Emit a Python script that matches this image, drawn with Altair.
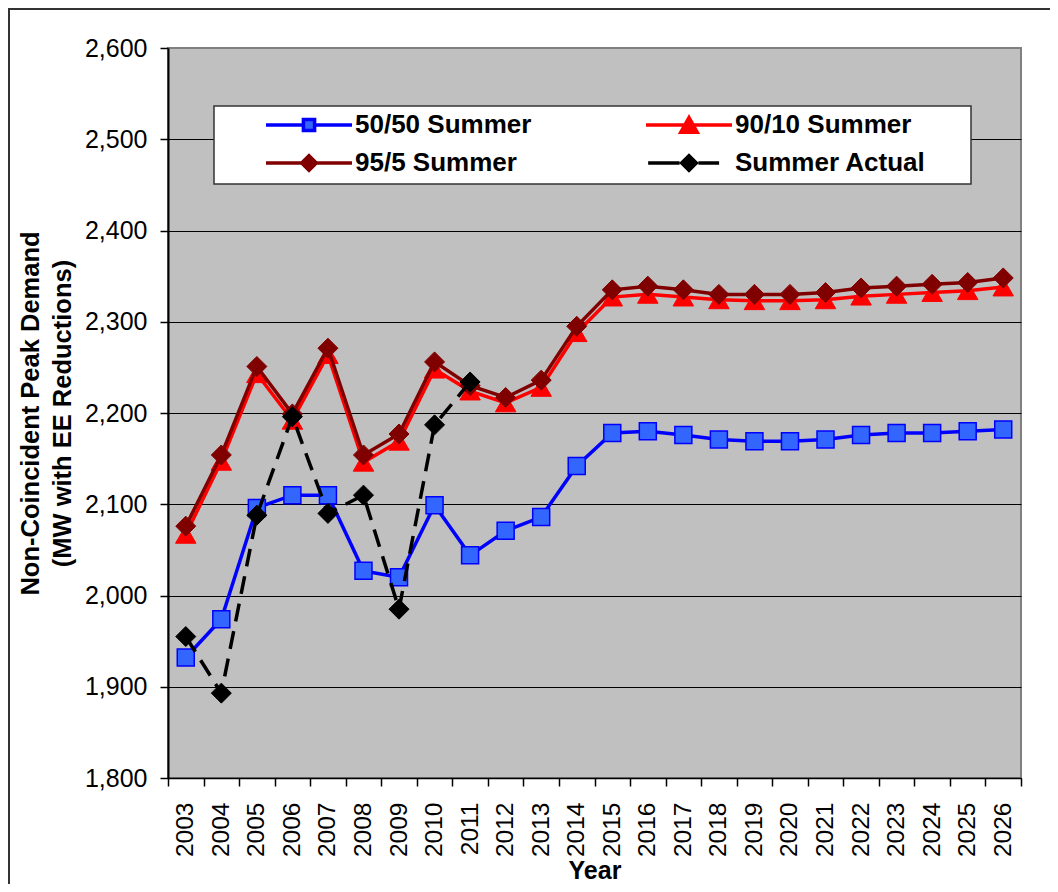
import altair as alt
import pandas as pd

# ---------------- data ----------------
years = list(range(2003, 2027))
series_names = ["50/50 Summer", "90/10 Summer", "95/5 Summer", "Summer Actual"]

summer_50_50 = [1932, 1974, 2096, 2110, 2110, 2027, 2020, 2099, 2044, 2071, 2086, 2142,
                2178, 2180, 2176, 2171, 2169, 2169, 2171, 2176, 2178, 2178, 2180, 2182]
summer_90_10 = [2067, 2147, 2243, 2192, 2264, 2146, 2169, 2248, 2224, 2211, 2228, 2288,
                2327, 2330, 2327, 2324, 2323, 2323, 2324, 2328, 2330, 2332, 2334, 2338]
summer_95_5 = [2076, 2154, 2251, 2199, 2271, 2154, 2177, 2256, 2230, 2217, 2236, 2295,
               2335, 2339, 2335, 2330, 2330, 2330, 2332, 2337, 2339, 2341, 2343, 2348]
actual_years = years[:9]
summer_actual = [1955, 1893, 2088, 2196, 2090, 2110, 1985, 2187, 2234]

y_ticks = [1800, 1900, 2000, 2100, 2200, 2300, 2400, 2500, 2600]

rows = []
for name, yrs, vals in [
    (series_names[0], years, summer_50_50),
    (series_names[1], years, summer_90_10),
    (series_names[2], years, summer_95_5),
    (series_names[3], actual_years, summer_actual),
]:
    for yr, v in zip(yrs, vals):
        rows.append({"year": yr, "series": name, "value": v})
df = pd.DataFrame(rows)

tick_bounds = [y - 0.5 for y in years] + [years[-1] + 0.5]

# ---------------- styles ----------------
FONT = "Liberation Sans"
styles = {
    "50/50 Summer": dict(line="#0000FF", fill="#3366FF", stroke="#0000FF", shape="square", size=289, sw=1.5, dash=None),
    "90/10 Summer": dict(line="#FF0000", fill="#FF0000", stroke="#FF0000", shape="triangle-up", size=420, sw=1, dash=None),
    "95/5 Summer": dict(line="#800000", fill="#800000", stroke="#800000", shape="diamond", size=400, sw=1, dash=None),
    "Summer Actual": dict(line="#000000", fill="#000000", stroke="#000000", shape="diamond", size=400, sw=1, dash=[18, 10]),
}
legend_paths = [
    "M-1,0H-0.13M0.13,0H1M-0.13,-0.13H0.13V0.13H-0.13Z",
    "M-1,0H1M0,-0.17L0.19,0.17L-0.19,0.17Z",
    "M-1,0H1M0,-0.17L0.17,0L0,0.17L-0.17,0Z",
    "M-0.95,0H-0.22M0.22,0H0.7M0,-0.17L0.17,0L0,0.17L-0.17,0Z",
]

xscale = alt.Scale(domain=[years[0] - 0.5, years[-1] + 0.5], nice=False, zero=False)
yscale = alt.Scale(domain=[1800, 2600], nice=False, zero=False)

x_label_axis = alt.Axis(
    orient="bottom", values=years, format="d", labelAngle=-90, labelFont=FONT,
    labelFontSize=24.5, labelColor="black", labelPadding=24, ticks=False, tickSize=0,
    domain=False, grid=False, labelFlush=False, labelOverlap=False,
    title="Year", titleFont=FONT, titleFontSize=25, titleFontWeight="bold",
    titleColor="black", titleX=426.5, titleY=100, titleBaseline="alphabetic",
    titleAlign="center",
)
x_tick_axis = alt.Axis(
    orient="bottom", values=tick_bounds, labels=False, ticks=True, tickSize=8,
    tickColor="black", tickWidth=1.5, domain=True, domainColor="black",
    domainWidth=1.5, grid=False, title=None,
)
y_axis = alt.Axis(
    orient="left", values=y_ticks, format=",.0f", labelFont=FONT, labelFontSize=25,
    labelColor="black", labelPadding=13, tickSize=8, tickColor="black", tickWidth=1.5,
    domainColor="black", domainWidth=2, grid=True,
    gridColor={"condition": {"test": "datum.value >= 2600", "value": "#808080"}, "value": "#000000"},
    gridWidth=1,
    title=["Non-Coincident Peak Demand", "(MW with EE Reductions)"],
    titleFont=FONT, titleFontSize=25.5, titleFontWeight="bold", titleColor="black",
    titleLineHeight=32, titleX=-138, titleY=365, titleBaseline="middle",
    titleAngle=-90, titleAlign="center",
)

legend_def = alt.Legend(
    title=None, orient="none", legendX=96, legendY=58, direction="horizontal",
    columns=2, columnPadding=112, rowPadding=0, clipHeight=38, symbolSize=7396,
    symbolStrokeWidth=3.5, labelFont=FONT, labelFontSize=26, labelFontWeight="bold",
    labelColor="black", labelOffset=1, padding=0, labelLimit=400,
)

one = alt.Data(values=[{}])

# frame lines and legend box (decoration)
frame_top = alt.Chart(one).mark_rule(color="#333333", strokeWidth=2).encode(
    x=alt.value(-160), x2=alt.value(900), y=alt.value(-39))
frame_left = alt.Chart(one).mark_rule(color="#333333", strokeWidth=2).encode(
    x=alt.value(-159), y=alt.value(-40), y2=alt.value(900))
legend_box = alt.Chart(one).mark_rect(fill="white", stroke="#333333", strokeWidth=1.5).encode(
    x=alt.value(46), x2=alt.value(803), y=alt.value(58), y2=alt.value(136))

# legend carrier layer (no visible marks) also carrying the main axes
legend_layer = alt.Chart(df).transform_filter("datum.value < 0").mark_point(
    filled=True, opacity=1).encode(
    x=alt.X("year:Q", scale=xscale, axis=x_label_axis),
    y=alt.Y("value:Q", scale=yscale, axis=y_axis),
    fill=alt.Fill("series:N", scale=alt.Scale(domain=series_names,
                  range=[styles[s]["fill"] for s in series_names]), legend=legend_def),
    stroke=alt.Stroke("series:N", scale=alt.Scale(domain=series_names,
                      range=[styles[s]["stroke"] for s in series_names]), legend=legend_def),
    shape=alt.Shape("series:N", scale=alt.Scale(domain=series_names, range=legend_paths),
                    legend=legend_def),
)

tick_layer = alt.Chart(df).transform_filter("datum.value < 0").mark_point(opacity=0).encode(
    x=alt.X("year:Q", scale=xscale, axis=x_tick_axis),
    y=alt.Y("value:Q", scale=yscale, axis=y_axis),
)

layers = [frame_top, frame_left, legend_box, legend_layer, tick_layer]
for name in series_names:
    st = styles[name]
    base = alt.Chart(df).transform_filter(alt.datum.series == name)
    line_kwargs = dict(color=st["line"], strokeWidth=3.5)
    if st["dash"]:
        line_kwargs["strokeDash"] = st["dash"]
    line = base.mark_line(**line_kwargs).encode(
        x=alt.X("year:Q", scale=xscale, axis=None),
        y=alt.Y("value:Q", scale=yscale, axis=y_axis),
    )
    pts = base.mark_point(shape=st["shape"], filled=True, fill=st["fill"], stroke=st["stroke"],
                          strokeWidth=st["sw"], size=st["size"], opacity=1).encode(
        x=alt.X("year:Q", scale=xscale, axis=None),
        y=alt.Y("value:Q", scale=yscale, axis=y_axis),
    )
    layers += [line, pts]

chart = alt.layer(*layers).resolve_axis(x="independent").properties(
    width=853, height=730,
    autosize=alt.AutoSizeParams(type="none"),
    padding={"left": 160, "top": 40, "right": 29, "bottom": 106},
    background="white",
).configure_view(fill="#C0C0C0", stroke="#808080", strokeWidth=2)

chart.save("out.html", embed_options={"renderer": "svg", "actions": False})
